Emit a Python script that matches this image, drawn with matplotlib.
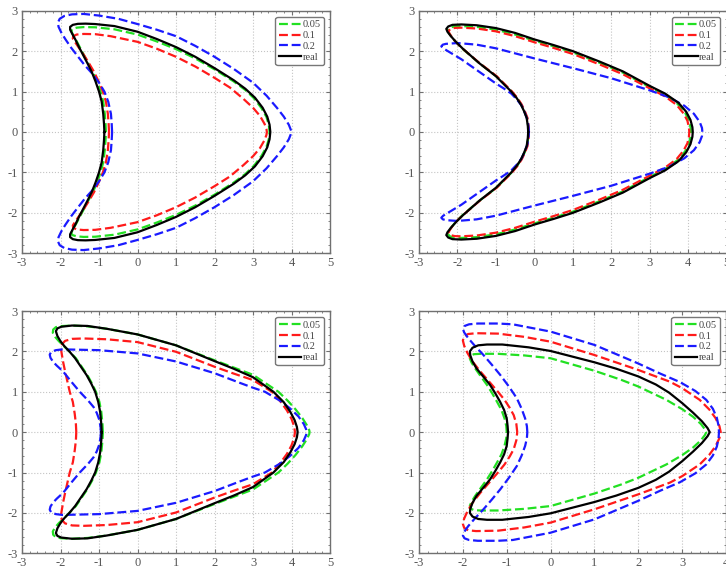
import matplotlib.pyplot as plt
from matplotlib.ticker import MultipleLocator, AutoMinorLocator

plt.rcParams["axes.unicode_minus"] = False

# Upper halves (y >= 0) of each boundary, from the inner point on y=0,
# round the tip, along the top and back down to the nose on y=0.
# The lower halves are the mirror images.

# top left
tl_005 = [(-0.82, 0), (-0.83, 0.2), (-0.85, 0.45), (-0.89, 0.75), (-0.96, 1.0), (-1.05, 1.25),
          (-1.16, 1.49), (-1.28, 1.7), (-1.39, 1.9), (-1.5, 2.1), (-1.6, 2.28), (-1.68, 2.41),
          (-1.72, 2.5), (-1.69, 2.55), (-1.58, 2.58), (-1.4, 2.595), (-1.1, 2.59), (-0.6, 2.54),
          (0.0, 2.41), (0.5, 2.24), (1.0, 2.05), (1.5, 1.82), (2.0, 1.55), (2.5, 1.25),
          (2.8, 1.04), (3.03, 0.83), (3.22, 0.59), (3.35, 0.37), (3.41, 0.18), (3.43, 0)]
tl_01 = [(-0.74, 0), (-0.75, 0.2), (-0.77, 0.45), (-0.82, 0.75), (-0.9, 1.0), (-1.01, 1.25),
         (-1.13, 1.49), (-1.26, 1.7), (-1.39, 1.9), (-1.52, 2.08), (-1.62, 2.22), (-1.68, 2.31),
         (-1.67, 2.37), (-1.58, 2.41), (-1.4, 2.425), (-1.1, 2.42), (-0.7, 2.37), (0.0, 2.23),
         (0.5, 2.06), (1.0, 1.86), (1.5, 1.62), (2.0, 1.34), (2.4, 1.1), (2.75, 0.82),
         (3.0, 0.6), (3.18, 0.4), (3.3, 0.2), (3.35, 0.07), (3.36, 0)]
tl_02 = [(-0.66, 0), (-0.67, 0.2), (-0.69, 0.45), (-0.76, 0.75), (-0.86, 1.0), (-1.0, 1.22),
         (-1.18, 1.45), (-1.37, 1.65), (-1.55, 1.87), (-1.72, 2.08), (-1.87, 2.29), (-1.98, 2.46),
         (-2.05, 2.6), (-2.07, 2.7), (-2.02, 2.8), (-1.9, 2.87), (-1.7, 2.91), (-1.4, 2.92),
         (-1.0, 2.88), (-0.5, 2.8), (0.0, 2.67), (0.5, 2.53), (1.0, 2.37), (1.5, 2.13),
         (2.0, 1.86), (2.5, 1.56), (3.0, 1.22), (3.35, 0.9), (3.62, 0.6), (3.8, 0.38),
         (3.93, 0.18), (3.98, 0.06), (4.0, 0)]
tl_real = [(-0.86, 0), (-0.87, 0.2), (-0.89, 0.45), (-0.93, 0.75), (-1.0, 1.0), (-1.09, 1.25),
           (-1.19, 1.49), (-1.3, 1.7), (-1.41, 1.9), (-1.52, 2.1), (-1.61, 2.28), (-1.69, 2.42),
           (-1.75, 2.53), (-1.75, 2.6), (-1.68, 2.65), (-1.55, 2.675), (-1.35, 2.68), (-1.1, 2.67),
           (-0.6, 2.62), (0.0, 2.48), (0.5, 2.3), (1.0, 2.1), (1.5, 1.86), (2.0, 1.58),
           (2.5, 1.28), (2.8, 1.07), (3.05, 0.85), (3.25, 0.6), (3.37, 0.38), (3.43, 0.18),
           (3.45, 0)]

# top right
tr_005 = [(-0.15, 0), (-0.16, 0.15), (-0.19, 0.35), (-0.26, 0.52), (-0.34, 0.68), (-0.45, 0.84),
          (-0.59, 1.0), (-0.79, 1.19), (-0.99, 1.38), (-1.43, 1.7), (-1.86, 2.05), (-2.04, 2.22),
          (-2.16, 2.36), (-2.23, 2.46), (-2.25, 2.52), (-2.2, 2.58), (-2.09, 2.61), (-1.9, 2.62),
          (-1.5, 2.6), (-1.0, 2.53), (-0.5, 2.41), (0.0, 2.26), (0.5, 2.12), (1.0, 1.97),
          (1.7, 1.71), (2.3, 1.47), (3.0, 1.11), (3.4, 0.92), (3.72, 0.7), (3.92, 0.48),
          (4.02, 0.29), (4.06, 0.12), (4.07, 0)]
tr_01 = [(-0.14, 0), (-0.15, 0.15), (-0.18, 0.35), (-0.25, 0.52), (-0.33, 0.68), (-0.44, 0.84),
         (-0.58, 1.0), (-0.78, 1.19), (-0.98, 1.38), (-1.42, 1.7), (-1.85, 2.05), (-2.03, 2.21),
         (-2.14, 2.34), (-2.21, 2.44), (-2.23, 2.5), (-2.18, 2.55), (-2.07, 2.575), (-1.9, 2.58),
         (-1.5, 2.56), (-1.0, 2.49), (-0.5, 2.37), (0.0, 2.22), (0.5, 2.08), (1.0, 1.93),
         (1.7, 1.67), (2.3, 1.43), (3.0, 1.08), (3.4, 0.88), (3.7, 0.67), (3.88, 0.46),
         (3.98, 0.28), (4.02, 0.12), (4.03, 0)]
tr_02 = [(-0.14, 0), (-0.15, 0.12), (-0.18, 0.3), (-0.25, 0.48), (-0.33, 0.65), (-0.45, 0.8),
         (-0.6, 0.95), (-0.8, 1.08), (-1.0, 1.2), (-1.45, 1.5), (-1.9, 1.8), (-2.25, 2.0),
         (-2.37, 2.07), (-2.42, 2.12), (-2.38, 2.16), (-2.3, 2.18), (-2.0, 2.2), (-1.5, 2.16),
         (-1.0, 2.07), (0.0, 1.82), (1.0, 1.58), (2.0, 1.33), (3.0, 1.03), (3.5, 0.86),
         (3.9, 0.65), (4.15, 0.45), (4.3, 0.25), (4.36, 0.1), (4.37, 0)]
tr_real = [(-0.16, 0), (-0.17, 0.15), (-0.2, 0.35), (-0.27, 0.52), (-0.35, 0.68), (-0.46, 0.84),
           (-0.6, 1.0), (-0.8, 1.19), (-1.0, 1.38), (-1.43, 1.7), (-1.86, 2.06), (-2.05, 2.24),
           (-2.18, 2.38), (-2.26, 2.48), (-2.29, 2.55), (-2.24, 2.61), (-2.13, 2.65), (-1.9, 2.66),
           (-1.5, 2.64), (-1.0, 2.57), (-0.5, 2.45), (0.0, 2.29), (0.5, 2.15), (1.0, 2.0),
           (1.7, 1.74), (2.3, 1.5), (3.0, 1.14), (3.4, 0.95), (3.75, 0.72), (3.95, 0.5),
           (4.06, 0.3), (4.11, 0.12), (4.12, 0)]

# bottom left
bl_005 = [(-0.9, 0), (-0.91, 0.2), (-0.94, 0.5), (-0.99, 0.75), (-1.08, 1.0), (-1.18, 1.2),
          (-1.3, 1.41), (-1.45, 1.62), (-1.6, 1.83), (-1.76, 1.99), (-1.9, 2.12), (-2.04, 2.25),
          (-2.14, 2.36), (-2.2, 2.46), (-2.19, 2.54), (-2.12, 2.6), (-2.0, 2.625), (-1.7, 2.64),
          (-1.3, 2.62), (-0.8, 2.56), (0.0, 2.42), (1.0, 2.15), (2.0, 1.78), (2.5, 1.6),
          (3.0, 1.42), (3.66, 1.0), (3.9, 0.78), (4.1, 0.57), (4.28, 0.35), (4.4, 0.17),
          (4.46, 0.05), (4.47, 0)]
bl_01 = [(-1.59, 0), (-1.6, 0.2), (-1.63, 0.45), (-1.68, 0.75), (-1.76, 1.0), (-1.82, 1.25),
         (-1.88, 1.5), (-1.93, 1.73), (-1.97, 1.95), (-1.99, 2.08), (-1.96, 2.18), (-1.88, 2.26),
         (-1.7, 2.31), (-1.4, 2.32), (-0.8, 2.3), (0.0, 2.23), (1.0, 1.99), (2.0, 1.62),
         (2.5, 1.45), (3.0, 1.29), (3.49, 1.0), (3.72, 0.75), (3.88, 0.54), (4.0, 0.33),
         (4.07, 0.14), (4.09, 0)]
bl_02 = [(-0.95, 0), (-0.96, 0.12), (-0.99, 0.3), (-1.06, 0.48), (-1.14, 0.62), (-1.28, 0.78),
         (-1.5, 1.0), (-1.72, 1.25), (-1.93, 1.5), (-2.1, 1.65), (-2.19, 1.74), (-2.26, 1.84),
         (-2.28, 1.92), (-2.24, 1.99), (-2.12, 2.03), (-1.95, 2.05), (-1.0, 2.03), (0.0, 1.95),
         (1.0, 1.75), (2.0, 1.46), (2.66, 1.22), (3.0, 1.1), (3.31, 1.0), (3.7, 0.78),
         (3.96, 0.59), (4.18, 0.39), (4.32, 0.2), (4.38, 0.07), (4.39, 0)]
bl_real = [(-0.93, 0), (-0.94, 0.2), (-0.97, 0.5), (-1.02, 0.75), (-1.1, 1.0), (-1.2, 1.2),
           (-1.32, 1.41), (-1.47, 1.62), (-1.62, 1.83), (-1.77, 2.0), (-1.9, 2.13), (-2.0, 2.25),
           (-2.08, 2.38), (-2.12, 2.5), (-2.08, 2.57), (-1.98, 2.61), (-1.7, 2.64), (-1.3, 2.63),
           (-0.8, 2.56), (0.0, 2.42), (1.0, 2.15), (2.0, 1.76), (2.5, 1.57), (3.0, 1.36),
           (3.53, 1.0), (3.8, 0.74), (3.97, 0.5), (4.08, 0.3), (4.14, 0.13), (4.16, 0)]

# bottom right
br_005 = [(-1.0, 0), (-1.01, 0.15), (-1.05, 0.34), (-1.12, 0.55), (-1.22, 0.75), (-1.33, 0.96),
          (-1.45, 1.17), (-1.59, 1.38), (-1.72, 1.58), (-1.8, 1.72), (-1.84, 1.82), (-1.83, 1.89),
          (-1.75, 1.93), (-1.6, 1.94), (-1.2, 1.94), (-0.6, 1.9), (0.0, 1.83), (1.0, 1.52),
          (1.6, 1.3), (2.0, 1.13), (2.64, 0.8), (3.0, 0.57), (3.25, 0.38), (3.43, 0.2),
          (3.52, 0.07), (3.55, 0)]
br_01 = [(-0.76, 0), (-0.78, 0.2), (-0.84, 0.42), (-0.93, 0.6), (-1.05, 0.8), (-1.2, 1.0),
         (-1.4, 1.25), (-1.6, 1.5), (-1.78, 1.75), (-1.9, 1.97), (-1.97, 2.14), (-2.0, 2.27),
         (-1.97, 2.37), (-1.88, 2.43), (-1.7, 2.45), (-1.2, 2.44), (-0.6, 2.36), (0.0, 2.24),
         (1.0, 1.91), (2.0, 1.54), (2.72, 1.25), (3.0, 1.09), (3.4, 0.8), (3.62, 0.56),
         (3.76, 0.35), (3.85, 0.15), (3.88, 0)]
br_02 = [(-0.53, 0), (-0.54, 0.15), (-0.58, 0.34), (-0.66, 0.58), (-0.77, 0.84), (-0.95, 1.13),
         (-1.15, 1.42), (-1.34, 1.67), (-1.53, 1.91), (-1.72, 2.13), (-1.88, 2.33), (-1.97, 2.47),
         (-2.0, 2.56), (-1.96, 2.63), (-1.86, 2.67), (-1.66, 2.69), (-1.2, 2.69), (-0.86, 2.67),
         (0.0, 2.49), (1.0, 2.16), (2.0, 1.7), (2.5, 1.45), (2.95, 1.24), (3.3, 1.02),
         (3.55, 0.8), (3.7, 0.58), (3.79, 0.36), (3.83, 0.16), (3.84, 0)]
br_real = [(-0.97, 0), (-0.98, 0.15), (-1.0, 0.34), (-1.06, 0.55), (-1.15, 0.75), (-1.26, 0.96),
           (-1.38, 1.17), (-1.53, 1.37), (-1.69, 1.58), (-1.78, 1.75), (-1.83, 1.9), (-1.84, 2.0),
           (-1.78, 2.09), (-1.65, 2.15), (-1.45, 2.17), (-1.1, 2.17), (-0.5, 2.1), (0.0, 2.01),
           (1.0, 1.73), (1.5, 1.57), (2.0, 1.38), (2.4, 1.18), (2.7, 0.98), (3.0, 0.72),
           (3.25, 0.48), (3.45, 0.27), (3.58, 0.1), (3.63, 0)]

labels = ["0.05", "0.1", "0.2", "real"]
colors = ["#22e022", "#ff1a1a", "#1a1aff", "black"]
styles = [(0, (4, 1.7)), (0, (4, 1.7)), (0, (4, 1.7)), "-"]

panels = [
    ([tl_005, tl_01, tl_02, tl_real], [22, 10.7, 330, 253.3], (-3, 5)),
    ([tr_005, tr_01, tr_02, tr_real], [419, 10.7, 726.6, 253.3], (-3, 5)),
    ([bl_005, bl_01, bl_02, bl_real], [22, 311, 330, 553.3], (-3, 5)),
    ([br_005, br_01, br_02, br_real], [419, 311, 726, 553.3], (-3, 4)),
]

W, H = 726, 571
gray = "#707070"


def closed(half):
    # mirror the upper half about y=0 to get the whole closed curve
    xs = [p[0] for p in half]
    ys = [p[1] for p in half]
    return xs + xs[-2::-1], ys + [-v for v in ys[-2::-1]]


fig = plt.figure(figsize=(W / 100, H / 100), dpi=100)

for curves, (x0, y0, x1, y1), xlim in panels:
    ax = fig.add_axes([x0 / W, 1 - y1 / H, (x1 - x0) / W, (y1 - y0) / H])
    for half, lab, c, ls in zip(curves, labels, colors, styles):
        xs, ys = closed(half)
        ax.plot(xs, ys, color=c, linestyle=ls, linewidth=1.6, label=lab,
                solid_joinstyle="round", dash_joinstyle="round")

    ax.set_xlim(*xlim)
    ax.set_ylim(-3, 3)
    ax.xaxis.set_major_locator(MultipleLocator(1))
    ax.yaxis.set_major_locator(MultipleLocator(1))
    ax.xaxis.set_minor_locator(AutoMinorLocator(5))
    ax.yaxis.set_minor_locator(AutoMinorLocator(5))
    ax.grid(True, which="major", color="#c4c4c4", linestyle=":", linewidth=0.8)
    ax.tick_params(which="both", direction="in", top=True, right=True, color=gray,
                   labelcolor="#555555", labelsize=9)
    ax.tick_params(which="major", length=3, pad=3)
    ax.tick_params(which="minor", length=1.5)
    for lbl in ax.get_xticklabels() + ax.get_yticklabels():
        lbl.set_family("Liberation Serif")
    for s in ax.spines.values():
        s.set_color(gray)
        s.set_linewidth(1.0)

    leg = ax.legend(loc="upper right", handlelength=2.2, handletextpad=0.1,
                    labelspacing=0.15, borderpad=0.3, borderaxespad=0.6, fancybox=True,
                    framealpha=1, prop={"family": "Liberation Serif", "size": 7.5})
    leg.get_frame().set_edgecolor("#777777")
    leg.get_frame().set_linewidth(1.0)
    for t in leg.get_texts():
        t.set_color("#444444")

fig.savefig("out.png", dpi=100)
